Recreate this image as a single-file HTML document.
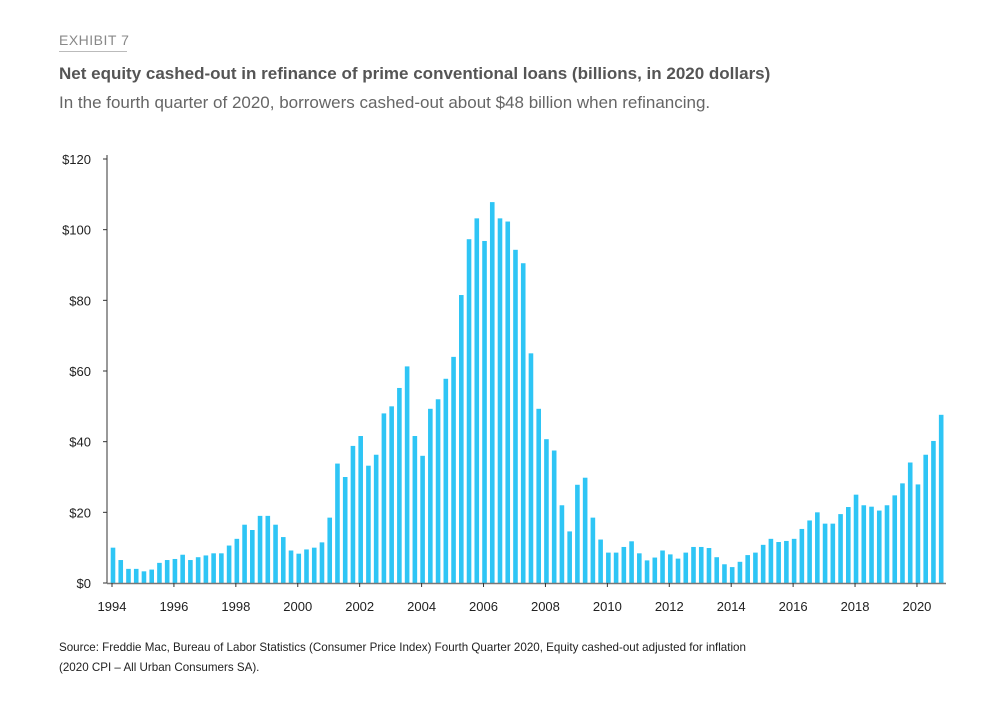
<!DOCTYPE html>
<html><head><meta charset="utf-8"><style>
body{margin:0;background:#fff;font-family:"Liberation Sans",sans-serif;}
#wrap{position:relative;width:1000px;height:716px;overflow:hidden;}
.t{position:absolute;white-space:nowrap;}
</style></head><body>
<div id="wrap">
<div class="t" style="left:59px;top:32px;font-size:14px;color:#888;letter-spacing:0.5px;">EXHIBIT 7</div>
<div style="position:absolute;left:59px;top:51px;width:68px;height:1px;background:#bbb;"></div>
<div class="t" style="left:59px;top:64px;font-size:17px;font-weight:bold;color:#555;">Net equity cashed-out in refinance of prime conventional loans (billions, in 2020 dollars)</div>
<div class="t" style="left:59px;top:93px;font-size:17px;color:#666;">In the fourth quarter of 2020, borrowers cashed-out about $48 billion when refinancing.</div>
<svg id="chart" width="1000" height="716" style="position:absolute;left:0;top:0"></svg>
<div class="t" style="left:59px;top:638px;font-size:11.6px;color:#222;line-height:20px;">Source: Freddie Mac, Bureau of Labor Statistics (Consumer Price Index) Fourth Quarter 2020, Equity cashed-out adjusted for inflation<br>(2020 CPI – All Urban Consumers SA).</div>
</div>
<script>
const years=[1994,1995,1996,1997,1998,1999,2000,2001,2002,2003,2004,2005,2006,2007,2008,2009,2010,2011,2012,2013,2014,2015,2016,2017,2018,2019,2020];
const values=[10,6.5,4,4, 3.3,3.8,5.7,6.5, 6.8,8,6.5,7.3, 7.8,8.4,8.4,10.6, 12.5,16.5,15,19, 19,16.5,13,9.2, 8.3,9.5,10,11.5, 18.5,33.8,30,38.8, 41.6,33.2,36.3,48, 50,55.2,61.3,41.6, 36,49.3,52,57.8, 64,81.5,97.3,103.2, 96.8,107.8,103.2,102.3, 94.3,90.5,65,49.3, 40.7,37.5,22,14.6, 27.8,29.8,18.5,12.3, 8.6,8.6,10.2,11.8, 8.4,6.4,7.2,9.2, 8.1,6.9,8.6,10.2, 10.2,9.9,7.3,5.3, 4.5,6,7.9,8.6, 10.8,12.5,11.6,11.9, 12.5,15.3,17.7,20, 16.8,16.8,19.5,21.5, 25,22,21.6,20.5, 22,24.8,28.2,34.1, 27.9,36.3,40.2,47.6];
const yTicks=[0,20,40,60,80,100,120];
const xLabels=[1994,1996,1998,2000,2002,2004,2006,2008,2010,2012,2014,2016,2018,2020];
const NS="http://www.w3.org/2000/svg";
const svg=document.getElementById('chart');
const y0=583,yTop=159,x0=113,q=7.74;
const Y=v=>y0-(v/120)*(y0-yTop);
const X=i=>x0+i*q;
const XY=yr=>x0+(yr-1994)*4*q;
function mk(tag,at){const e=document.createElementNS(NS,tag);for(const k in at)e.setAttribute(k,at[k]);svg.appendChild(e);return e;}
values.forEach((v,i)=>{
 const r=mk('rect',{x:X(i)-2.3,y:Y(v),width:4.6,height:y0-Y(v),fill:'#2ec5f5'});
 
 
});
const ya=mk('line',{x1:107,y1:155,x2:107,y2:y0,stroke:'#333','stroke-width':1});


yTicks.forEach(t=>{
 mk('line',{x1:103,x2:107,y1:Y(t),y2:Y(t),stroke:'#333'});
 const tx=mk('text',{x:91,y:Y(t)+5,'text-anchor':'end','font-size':13,fill:'#222','font-family':'Liberation Sans, sans-serif'});
 tx.textContent='$'+t;
 
 
});
const xa=mk('line',{x1:107,y1:y0+0.5,x2:946,y2:y0+0.5,stroke:'#777','stroke-width':1.5});


xLabels.forEach(yr=>{
 const x=XY(yr)-1;
 mk('line',{x1:x,x2:x,y1:y0,y2:y0+4,stroke:'#333'});
 const tx=mk('text',{x:x,y:y0+28,'text-anchor':'middle','font-size':13,fill:'#222','font-family':'Liberation Sans, sans-serif'});
 tx.textContent=yr;
 
 
});
</script>
</body></html>
